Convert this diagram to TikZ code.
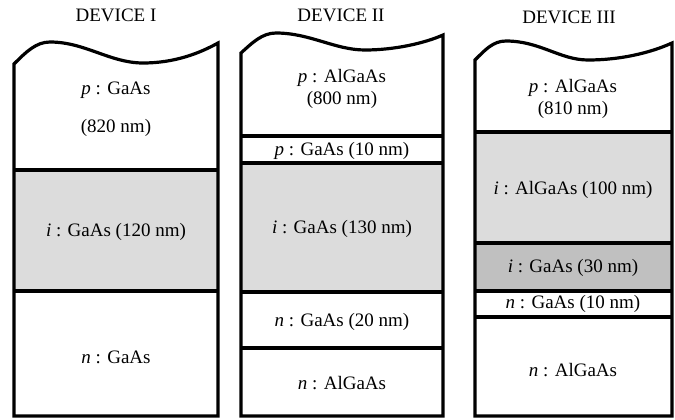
\documentclass[tikz,border=0pt]{standalone}
\usepackage{fontspec}
\setmainfont{Liberation Serif}
\definecolor{lightg}{RGB}{220,220,220}
\definecolor{darkg}{RGB}{192,192,192}
\begin{document}
\begin{tikzpicture}[x=1pt,y=-1pt,line width=3.2pt,
  lbl/.style={font=\fontsize{19}{22}\selectfont, inner sep=0pt},
  dev/.style={font=\fontsize{19}{22}\selectfont, inner sep=0pt},
  outline/.style={line join=miter}]
\useasboundingbox (0,0) rectangle (675,420);
\fill[white] (0,0) rectangle (675,420);

% ---------- DEVICE I ----------
\fill[lightg] (14,170) rectangle (218,291);
\draw (14,170) -- (218,170);
\draw (14,291) -- (218,291);
\draw[outline] (14,64) .. controls (26,52) and (36,42) .. (50,42)
  .. controls (85,42) and (110,63) .. (143,63)
  .. controls (175,63) and (200,53) .. (218,43)
  -- (218,416) -- (14,416) -- cycle;
\node[dev] (d1) at (116,15) {DEVICE I};
\node[lbl] (d1p) at (116,90) {\textit{p} : GaAs};
\node[lbl] (d1pt) at (116,128) {(820 nm)};
\node[lbl] (d1i) at (116,232) {\textit{i} : GaAs (120 nm)};
\node[lbl] (d1n) at (116,357) {\textit{n} : GaAs};

% ---------- DEVICE II ----------
\fill[lightg] (241,163) rectangle (443,292);
\draw (241,136) -- (443,136);
\draw (241,163) -- (443,163);
\draw (241,292) -- (443,292);
\draw (241,348) -- (443,348);
\draw[outline] (241,53) .. controls (252,43) and (262,33) .. (276,33)
  .. controls (310,33) and (335,50) .. (365,50)
  .. controls (395,50) and (425,43) .. (443,35)
  -- (443,416) -- (241,416) -- cycle;
\node[dev] (d2) at (341,15) {DEVICE II};
\node[lbl] (d2p) at (342,78) {\textit{p} : AlGaAs};
\node[lbl] (d2pt) at (342,100) {(800 nm)};
\node[lbl] (d2pg) at (342,151) {\textit{p} : GaAs (10 nm)};
\node[lbl] (d2i) at (342,229) {\textit{i} : GaAs (130 nm)};
\node[lbl] (d2ng) at (342,322) {\textit{n} : GaAs (20 nm)};
\node[lbl] (d2n) at (342,383) {\textit{n} : AlGaAs};

% ---------- DEVICE III ----------
\fill[lightg] (475,132) rectangle (672,243);
\fill[darkg] (475,243) rectangle (672,291);
\draw (475,132) -- (672,132);
\draw (475,243) -- (672,243);
\draw (475,291) -- (672,291);
\draw (475,317) -- (672,317);
\draw[outline] (475,60) .. controls (485,50) and (493,41) .. (506,41)
  .. controls (540,41) and (560,60) .. (588,60)
  .. controls (620,60) and (650,53) .. (672,43)
  -- (672,416) -- (475,416) -- cycle;
\node[dev] (d3) at (569,17) {DEVICE III};
\node[lbl] (d3p) at (573,88) {\textit{p} : AlGaAs};
\node[lbl] (d3pt) at (573,110) {(810 nm)};
\node[lbl] (d3i) at (573,190) {\textit{i} : AlGaAs (100 nm)};
\node[lbl] (d3ig) at (573,268) {\textit{i} : GaAs (30 nm)};
\node[lbl] (d3ng) at (573,304) {\textit{n} : GaAs (10 nm)};
\node[lbl] (d3n) at (573,370) {\textit{n} : AlGaAs};
\end{tikzpicture}
\end{document}
